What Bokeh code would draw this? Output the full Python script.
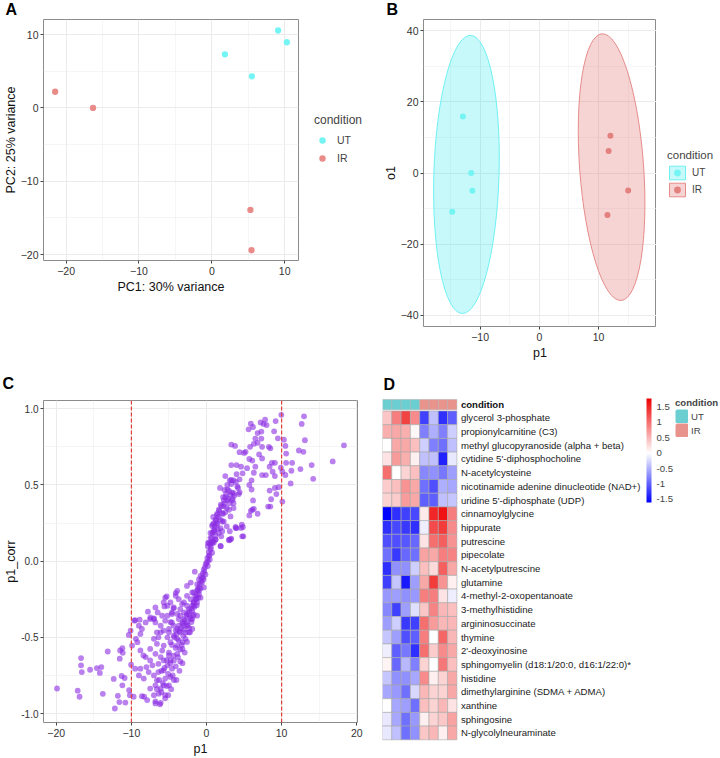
from bokeh.plotting import figure
from bokeh.layouts import row, column
from bokeh.models import (ColumnDataSource, FixedTicker, Legend, LegendItem, Title,
                          ColorBar, LinearColorMapper, Span, Range1d, PrintfTickFormatter)
from bokeh.core.properties import value
from bokeh.embed import file_html
from bokeh.resources import INLINE

FONT = "Liberation Sans"
UT_COL = "#75F4F4"
IR_COL = "#E88B89"

# ---------------- Panel A: PCA ----------------
conditions = ["UT", "IR"]
pca_ut_pc1 = [1.8, 5.5, 9.1, 10.3]
pca_ut_pc2 = [7.3, 4.3, 10.55, 8.95]
pca_ir_pc1 = [-21.5, -16.3, 5.3, 5.45]
pca_ir_pc2 = [2.2, 0.0, -13.9, -19.4]

# ---------------- Panel B: OPLS-DA scores ----------------
opls_ut_p1 = [-12.9, -11.5, -11.3, -14.7]
opls_ut_o1 = [15.9, 0.0, -5.0, -10.9]
opls_ir_p1 = [12.0, 11.7, 15.0, 11.5]
opls_ir_o1 = [10.5, 6.2, -4.9, -11.85]
ellipse_p1 = [-12.3, 12.2]
ellipse_o1 = [-0.4, 1.65]
ellipse_w = [11.0, 10.8]
ellipse_h = [78.3, 75.3]
ellipse_angle = [-0.030, 0.072]

# ---------------- Panel C: S-plot ----------------
c_points = [
    (9.96, 0.96), (12.98, 0.95), (12.67, 0.90), (18.3, 0.76), (16.8, 0.654), (14.2, 0.54), (14.0, 0.63),
    (12.5, 0.604), (11.3, 0.593), (11.2, 0.51), (11.4, 0.645), (10.6, 0.645), (12.3, 0.726), (12.9, 0.717),
    (13.1, 0.793), (10.6, 0.706), (10.5, 0.756), (10.3, 0.797), (9.5, 0.806), (9.2, 0.919), (9.0, 0.852),
    (7.8, 0.928), (7.2, 0.91), (8.0, 0.893), (5.9, 0.902), (6.2, 0.88), (5.6, 0.865), (7.3, 0.85),
    (6.5, 0.804), (7.3, 0.804), (6.8, 0.776), (6.3, 0.77), (5.8, 0.75), (5.2, 0.717), (5.0, 0.71),
    (4.4, 0.715), (3.3, 0.765), (3.8, 0.756), (8.3, 0.75), (8.5, 0.74), (7.4, 0.75), (7.0, 0.70),
    (7.4, 0.674), (6.1, 0.66), (5.7, 0.67), (6.5, 0.62), (5.4, 0.61), (4.6, 0.62), (4.0, 0.63),
    (3.3, 0.63), (9.1, 0.645), (8.7, 0.645), (8.4, 0.62), (8.8, 0.587), (9.9, 0.613), (10.1, 0.587),
    (10.5, 0.565), (9.1, 0.558), (7.9, 0.565), (7.4, 0.565), (6.3, 0.58), (6.0, 0.53), (5.7, 0.50),
    (6.0, 0.47), (4.8, 0.576), (4.4, 0.537), (4.0, 0.57), (3.6, 0.53), (3.1, 0.53), (2.5, 0.558),
    (1.8, 0.48), (2.8, 0.47), (3.3, 0.506), (4.2, 0.48), (4.4, 0.452), (8.4, 0.463), (9.1, 0.48),
    (9.6, 0.485), (9.3, 0.44), (8.6, 0.406), (8.2, 0.358), (8.5, 0.358), (10.1, 0.391), (6.2, 0.398),
    (6.1, 0.337), (5.9, 0.33), (6.3, 0.343), (5.7, 0.30), (6.8, 0.311), (3.9, 0.217), (4.7, 0.239),
    (4.9, 0.163), (4.84, 0.224), (3.3, 0.148), (3.0, 0.141), (1.9, 0.098), (7.6, 0.90), (6.8, 0.84),
    (0.89, 0.29), (1.2, 0.27), (1.64, 0.337), (2.3, 0.36), (2.76, 0.40), (2.53, 0.42), (3.2, 0.435),
    (3.4, 0.40), (3.6, 0.38), (3.0, 0.337), (2.1, 0.315), (1.87, 0.27), (1.4, 0.24), (1.07, 0.207),
    (0.76, 0.185), (0.53, 0.152), (0.31, 0.12), (0.18, 0.098), (2.4, 0.467), (2.76, 0.50), (3.3, 0.533),
    (3.9, 0.52), (4.1, 0.49), (3.6, 0.446), (1.87, 0.217), (2.3, 0.26), (1.64, 0.185), (1.2, 0.141),
    (2.1, 0.196), (2.7, 0.228), (1.42, 0.304), (0.98, 0.25), (0.76, 0.12), (3.6, 0.348), (3.2, 0.293),
    (4.0, 0.217), (1.96, 0.163), (3.1, 0.196),
    (1.4, 0.25), (2.1, 0.26), (0.75, 0.23), (0.53, 0.185), (3.86, 0.224), (4.6, 0.218), (4.75, 0.163),
    (3.2, 0.142), (3.0, 0.137), (1.86, 0.10), (1.2, 0.142), (0.97, 0.12), (0.53, 0.076), (0.31, 0.033),
    (0.0, -0.01), (-0.36, -0.054), (-0.8, -0.097), (-1.25, -0.152), (-1.7, -0.206), (-2.1, -0.25),
    (-2.6, -0.293), (-3.0, -0.336), (-3.7, -0.38), (-4.4, -0.423), (-5.0, -0.467), (-1.56, -0.069),
    (-2.1, -0.141), (-2.6, -0.163), (-3.9, -0.195), (-4.1, -0.228), (-5.5, -0.24), (-5.6, -0.297),
    (-4.4, -0.31), (-4.6, -0.347), (-3.25, -0.282), (-1.7, -0.293), (-1.8, -0.358), (-1.25, -0.271),
    (-1.0, -0.195), (-0.6, -0.141), (-0.14, -0.087), (0.17, -0.032), (0.44, 0.011), (0.75, 0.055),
    (-2.2, -0.467), (-3.0, -0.423), (-3.9, -0.445), (-6.1, -0.467), (-7.0, -0.38), (-7.47, -0.37),
    (-1.9, -0.38), (-2.6, -0.4), (-5.2, -0.358), (-4.8, -0.40), (-3.5, -0.358), (-1.25, -0.358),
    (-0.8, -0.24), (-0.36, -0.173), (-0.45, -0.108), (-1.0, -0.12),
    (2.2, 0.42), (2.6, 0.44), (3.0, 0.46), (3.4, 0.45), (2.9, 0.41), (3.7, 0.43), (2.4, 0.38),
    (2.0, 0.36), (2.7, 0.35), (3.1, 0.38), (1.7, 0.33), (2.2, 0.31), (1.6, 0.29), (2.5, 0.32),
    (3.5, 0.41), (4.3, 0.44), (1.3, 0.27), (1.1, 0.23), (1.5, 0.21), (0.9, 0.19), (1.2, 0.17),
    (0.7, 0.15), (0.9, 0.13), (0.5, 0.11), (0.6, 0.09), (0.3, 0.06), (0.4, 0.04), (0.1, 0.02),
    (0.2, 0.0), (-0.1, -0.02), (-0.2, -0.04), (-0.3, -0.07), (-0.5, -0.08), (-0.6, -0.11),
    (-0.7, -0.13), (-0.9, -0.15), (-1.0, -0.17), (-1.2, -0.19), (-1.3, -0.22), (-1.5, -0.23),
    (-1.4, -0.25), (-1.7, -0.27), (-1.9, -0.29), (-2.0, -0.31), (-2.3, -0.33), (-2.4, -0.35),
    (-2.7, -0.36), (-2.9, -0.39), (-2.5, -0.42), (-3.2, -0.41), (-3.4, -0.44), (-3.6, -0.46),
    (-2.8, -0.47), (-3.1, -0.49), (-4.0, -0.48), (-4.3, -0.5), (-3.7, -0.52), (-2.6, -0.53),
    (-4.6, -0.55), (-4.1, -0.57), (-3.5, -0.58), (-5.0, -0.6), (-4.4, -0.62), (-3.8, -0.63),
    (-5.3, -0.65), (-4.8, -0.67), (-4.1, -0.69), (-5.6, -0.7), (-6.0, -0.72), (-5.1, -0.74),
    (-4.5, -0.75), (-6.3, -0.78), (-5.8, -0.8), (-5.3, -0.82), (-6.6, -0.84), (-6.0, -0.86),
    (-5.5, -0.9), (-6.8, -0.92), (-6.2, -0.94), (-1.1, -0.24), (-0.8, -0.18), (-0.4, -0.12),
    (0.6, 0.12), (1.0, 0.2), (1.9, 0.37), (2.3, 0.4), (-2.2, -0.37), (-1.6, -0.3), (-3.0, -0.45),
    (-2.3, -0.44), (-2.0, -0.4), (-3.3, -0.55), (-2.9, -0.6), (-3.2, -0.67), (-3.6, -0.72),
    (-4.0, -0.78), (-4.7, -0.84), (-5.1, -0.88), (-1.7, -0.35), (-1.3, -0.29), (1.4, 0.31),
    (0.8, 0.24), (0.2, 0.12),
    (-19.9, -0.836), (-17.15, -0.85), (-16.9, -0.89), (-16.7, -0.636), (-16.7, -0.684), (-16.6, -0.728),
    (-15.5, -0.713), (-14.6, -0.702), (-14.0, -0.695), (-14.2, -0.734), (-13.15, -0.593), (-13.8, -0.871),
    (-12.35, -0.773), (-12.2, -0.967), (-11.8, -0.884), (-11.6, -0.925), (-11.55, -0.64), (-11.5, -0.586),
    (-11.2, -0.571), (-11.15, -0.602), (-11.3, -0.754), (-10.9, -0.767), (-11.2, -0.815), (-10.8, -0.928),
    (-10.3, -0.847), (-10.2, -0.88), (-10.35, -0.484), (-10.1, -0.456), (-10.04, -0.68), (-9.7, -0.89),
    (-9.5, -0.706), (-9.4, -0.51), (-9.5, -0.387), (-8.9, -0.384), (-9.0, -0.424), (-9.6, -0.391),
    (-8.6, -0.445), (-8.1, -0.402), (-7.8, -0.332), (-7.5, -0.38), (-7.0, -0.376), (-6.8, -0.402),
    (-8.8, -0.586), (-8.4, -0.619), (-8.8, -0.706), (-9.0, -0.75), (-8.35, -0.771), (-8.6, -0.886),
    (-8.3, -0.89), (-7.9, -0.912), (-7.5, -0.836), (-7.7, -0.728), (-8.0, -0.695), (-7.0, -0.75),
    (-6.8, -0.815), (-6.8, -0.934), (-6.1, -0.93), (-7.5, -0.652), (-6.8, -0.608), (-6.4, -0.674),
    (-6.1, -0.63), (-6.6, -0.543), (-7.0, -0.51), (-6.4, -0.50), (-5.7, -0.554), (-5.9, -0.587),
    (-6.6, -0.782), (-6.1, -0.836), (-5.5, -0.88), (-5.5, -0.771), (-5.0, -0.815), (-4.8, -0.76),
    (-4.35, -0.78), (-4.6, -0.706), (-5.2, -0.684), (-5.7, -0.652), (-5.0, -0.619), (-4.35, -0.652),
    (-3.5, -0.658), (-3.9, -0.608), (-3.2, -0.576), (-3.9, -0.554), (-4.8, -0.532), (-5.2, -0.50),
    (-4.35, -0.489), (-5.0, -0.445), (-4.6, -0.402), (-5.5, -0.391), (-5.2, -0.293), (-5.3, -0.232),
    (-4.6, -0.337), (-4.1, -0.21), (-3.9, -0.347), (-3.5, -0.315), (-3.0, -0.271), (-2.6, -0.228),
    (-1.9, -0.206), (-1.2, -0.185), (-1.7, -0.271), (-2.35, -0.315), (-3.0, -0.38), (-2.6, -0.424),
    (-2.1, -0.38), (-3.5, -0.467), (-2.8, -0.51), (-2.35, -0.467), (-1.9, -0.445), (-3.2, -0.402),
    (-3.7, -0.424), (-4.1, -0.456), (-3.9, -0.51), (-3.2, -0.532), (-5.7, -0.456), (-6.6, -0.467),
    (-6.1, -0.424), (-5.9, -0.358), (-4.8, -0.271), (-3.7, -0.25), (-4.35, -0.304), (-2.6, -0.347),
    (-1.9, -0.326), (-1.45, -0.25), (-1.0, -0.217), (-5.7, -0.271), (-6.8, -0.304), (-6.5, -0.337),
    (-8.8, -0.478), (-9.2, -0.532), (-9.9, -0.554), (-7.5, -0.576), (-8.1, -0.63), (-7.2, -0.684),
    (-6.4, -0.728), (-5.7, -0.717), (-5.7, -0.815), (-6.35, -0.87), (-7.0, -0.88), (-4.8, -0.652),
]
p1_values = [pt[0] for pt in c_points]
p1_corr_values = [pt[1] for pt in c_points]
p1_cutoffs = [-10, 10]

# ---------------- Panel D: heatmap ----------------
metabolites = [
    "glycerol 3-phosphate", "propionylcarnitine (C3)", "methyl glucopyranoside (alpha + beta)",
    "cytidine 5'-diphosphocholine", "N-acetylcysteine", "nicotinamide adenine dinucleotide (NAD+)",
    "uridine 5'-diphosphate (UDP)", "cinnamoylglycine", "hippurate", "putrescine", "pipecolate",
    "N-acetylputrescine", "glutamine", "4-methyl-2-oxopentanoate", "3-methylhistidine",
    "argininosuccinate", "thymine", "2'-deoxyinosine", "sphingomyelin (d18:1/20:0, d16:1/22:0)*",
    "histidine", "dimethylarginine (SDMA + ADMA)", "xanthine", "sphingosine", "N-glycolylneuraminate",
]
sample_condition = ["UT", "UT", "UT", "UT", "IR", "IR", "IR", "IR"]
heat_values = [
    [0.4, 0.9, 1.3, 0.8, -1.2, -0.4, -1.3, -1.0],
    [0.55, 0.6, 0.55, 0.05, -0.8, -0.5, -0.8, -0.3],
    [0.0, 0.6, 0.6, 0.45, -0.3, -0.8, -0.9, -0.4],
    [0.2, 0.7, 0.55, 0.1, -0.4, -0.4, -1.4, -0.15],
    [1.0, 0.0, 0.3, 0.45, -0.75, -0.7, -0.85, -0.6],
    [0.35, 0.45, 0.75, 0.6, -0.9, -1.1, -0.5, -0.55],
    [0.3, 0.35, 0.7, 0.6, -1.0, -1.0, -0.4, -0.35],
    [-1.7, -1.3, -1.2, -1.15, 0.15, 1.5, 1.65, 0.9],
    [-1.3, -1.15, -1.25, -1.3, -0.1, 1.25, 1.35, 0.8],
    [-1.1, -1.1, -1.05, -0.95, 0.2, 1.0, 1.1, 0.75],
    [-0.9, -1.25, -0.95, -0.9, 0.65, 0.6, 0.9, 0.85],
    [-1.3, -0.7, -0.7, -0.3, 0.45, 0.25, 1.1, 0.6],
    [-1.2, -0.35, -1.45, -0.6, 0.6, 1.35, 0.75, 0.1],
    [-0.65, -0.6, -0.7, -0.65, 0.9, 0.9, 0.2, -0.1],
    [-0.75, -1.2, -0.6, -0.2, 0.4, 0.85, 0.5, 0.45],
    [-0.6, -0.3, -1.25, -1.2, 1.0, 0.7, 0.5, 0.5],
    [-0.35, -0.6, -1.1, -1.0, 0.9, 0.0, 1.05, 0.5],
    [-0.1, -1.0, -0.85, -1.3, 1.0, 0.35, 0.8, 0.6],
    [0.08, -0.95, -0.45, -0.8, 0.3, 0.0, 0.95, 0.45],
    [-0.35, -0.7, -0.7, -0.55, 0.8, 0.1, 0.3, 0.6],
    [-0.55, -0.65, -0.9, -0.25, 0.5, 0.3, 0.3, 0.6],
    [0.0, -0.55, -0.6, -0.9, 0.45, 0.3, 0.5, 0.2],
    [-0.15, -0.55, -0.9, -0.65, 0.1, 0.3, 0.4, 0.65],
    [-0.15, -0.4, -0.9, -0.7, 0.4, 0.5, 0.1, 0.6],
]
scale_low, scale_high = -1.6, 1.77
colorbar_ticks = [-1.5, -1, -0.5, 0, 0.5, 1, 1.5]
HEAT_UT = "#6BCFD1"
HEAT_IR = "#E8938C"


def style_axes(p, xticks, xminor, yticks, yminor):
    p.xaxis.ticker = FixedTicker(ticks=xticks, minor_ticks=xminor)
    p.yaxis.ticker = FixedTicker(ticks=yticks, minor_ticks=yminor)
    p.outline_line_color = "#8C8C8C"
    p.outline_line_width = 1
    for ax in p.axis:
        ax.axis_line_color = None
        ax.major_tick_line_color = "#444444"
        ax.major_tick_out = 3
        ax.major_tick_in = 0
        ax.minor_tick_line_color = None
        ax.major_label_text_font = FONT
        ax.major_label_text_font_size = "10.5px"
        ax.major_label_text_color = "#333333"
        ax.axis_label_text_font = FONT
        ax.axis_label_text_font_size = "12.5px"
        ax.axis_label_text_font_style = "normal"
        ax.axis_label_text_color = "#111111"
        ax.axis_label_text_line_height = 0.9
        ax.major_label_standoff = 2
        ax.axis_label_standoff = 2
    p.yaxis.axis_label_standoff = 0
    p.yaxis.major_label_standoff = 1
    p.grid.grid_line_color = "#EBEBEB"
    p.grid.grid_line_width = 1
    p.grid.minor_grid_line_color = "#EFEFEF"
    p.grid.minor_grid_line_width = 0.6


def panel_letter(p, text, offset, standoff, valign):
    p.add_layout(Title(text=text, align="left", offset=offset, standoff=standoff,
                       vertical_align=valign, text_font=FONT, text_font_size="16px",
                       text_font_style="bold", text_color="black"), "above")


def legend_style(leg, title_size, label_size):
    leg.title_text_font = FONT
    leg.title_text_font_size = title_size
    leg.title_text_font_style = "normal"
    leg.label_text_font = FONT
    leg.label_text_font_size = label_size
    leg.border_line_color = None
    leg.background_fill_alpha = 0
    leg.inactive_fill_alpha = 0
    leg.padding = 0
    leg.margin = 0
    leg.spacing = 0


def legend_figure(width, height):
    f = figure(width=width, height=height, x_range=Range1d(0, 1), y_range=Range1d(0, 1),
               output_backend="svg", toolbar_location=None, x_axis_location=None, y_axis_location=None,
               min_border_left=0, min_border_right=0, min_border_top=0, min_border_bottom=0)
    f.outline_line_color = None
    f.grid.visible = False
    return f


# ---------- A ----------
pA = figure(width=305, height=366, x_range=Range1d(-23.1, 11.9), y_range=Range1d(-20.8, 12.05),
            output_backend="svg", toolbar_location=None,
            min_border_left=41, min_border_right=7, min_border_top=19, min_border_bottom=106,
            x_axis_label="PC1: 30% variance", y_axis_label="PC2: 25% variance")
style_axes(pA, [-20, -10, 0, 10], [-15, -5, 5], [-20, -10, 0, 10], [-15, -5, 5])
pA.scatter(pca_ut_pc1, pca_ut_pc2, size=6.3, fill_color=UT_COL, line_color=None)
pA.scatter(pca_ir_pc1, pca_ir_pc2, size=6.3, fill_color=IR_COL, line_color=None)
panel_letter(pA, "A", -38, 0, "top")

# legend for A (its own small canvas; key glyphs are hidden copies of the points)
pAL = legend_figure(75, 366)
ka_ut = pAL.scatter(pca_ut_pc1, pca_ut_pc2, size=6.3, fill_color=UT_COL, line_color=None, visible=False)
ka_ir = pAL.scatter(pca_ir_pc1, pca_ir_pc2, size=6.3, fill_color=IR_COL, line_color=None, visible=False)
legA = Legend(items=[LegendItem(label=conditions[0], renderers=[ka_ut]),
                     LegendItem(label=conditions[1], renderers=[ka_ir])],
              location=(9, 199), title="condition")
legend_style(legA, "12px", "10.5px")
legA.glyph_width = 16
legA.glyph_height = 18
legA.label_height = 18
legA.label_standoff = 7
legA.title_standoff = 4
pAL.add_layout(legA, "center")

# ---------- B ----------
pB = figure(width=276, height=366, x_range=Range1d(-19.55, 19.78), y_range=Range1d(-43.2, 43.2),
            output_backend="svg", toolbar_location=None,
            min_border_left=40, min_border_right=0, min_border_top=17, min_border_bottom=40,
            x_axis_label="p1", y_axis_label="o1")
style_axes(pB, [-10, 0, 10], [-15, -5, 5, 15], [-40, -20, 0, 20, 40], [-30, -10, 10, 30])
pB.ellipse(x=[ellipse_p1[0]], y=[ellipse_o1[0]], width=[ellipse_w[0]], height=[ellipse_h[0]],
           angle=[ellipse_angle[0]], fill_color="#00E5EE", fill_alpha=0.22, line_color="#6FF0F2", line_width=1)
pB.ellipse(x=[ellipse_p1[1]], y=[ellipse_o1[1]], width=[ellipse_w[1]], height=[ellipse_h[1]],
           angle=[ellipse_angle[1]], fill_color="#E07070", fill_alpha=0.30, line_color="#E48C8A", line_width=1)
pB.scatter(opls_ut_p1, opls_ut_o1, size=6, fill_color=UT_COL, line_color=None)
pB.scatter(opls_ir_p1, opls_ir_o1, size=6, fill_color="#E3817F", line_color=None)
panel_letter(pB, "B", -37, 0, "top")

pBL = legend_figure(64, 366)
kb_ut_box = pBL.rect(x=[ellipse_p1[0]], y=[ellipse_o1[0]], width=[ellipse_w[0]], height=[ellipse_h[0]],
                     fill_color="#00E5EE", fill_alpha=0.22, line_color="#6FF0F2", line_width=1, visible=False)
kb_ir_box = pBL.rect(x=[ellipse_p1[1]], y=[ellipse_o1[1]], width=[ellipse_w[1]], height=[ellipse_h[1]],
                     fill_color="#E07070", fill_alpha=0.30, line_color="#E48C8A", line_width=1, visible=False)
kb_ut = pBL.scatter(opls_ut_p1, opls_ut_o1, size=6, fill_color=UT_COL, line_color=None, visible=False)
kb_ir = pBL.scatter(opls_ir_p1, opls_ir_o1, size=6, fill_color="#E3817F", line_color=None, visible=False)
legB = Legend(items=[LegendItem(label=conditions[0], renderers=[kb_ut_box, kb_ut]),
                     LegendItem(label=conditions[1], renderers=[kb_ir_box, kb_ir])],
              location=(11, 168), title="condition")
legend_style(legB, "11.5px", "10px")
legB.glyph_width = 20
legB.glyph_height = 17
legB.label_height = 17
legB.label_standoff = 5
legB.title_standoff = 3
pBL.add_layout(legB, "center")

# ---------- C ----------
pC = figure(width=365, height=392, x_range=Range1d(-21.7, 20.1), y_range=Range1d(-1.059, 1.054),
            output_backend="svg", toolbar_location=None,
            min_border_left=43, min_border_right=8, min_border_top=34, min_border_bottom=35,
            x_axis_label="p1", y_axis_label="p1_corr")
style_axes(pC, [-20, -10, 0, 10, 20], [-15, -5, 5, 15], [-1.0, -0.5, 0.0, 0.5, 1.0], [-0.75, -0.25, 0.25, 0.75])
pC.yaxis.formatter = PrintfTickFormatter(format="%.1f")
pC.yaxis.major_label_text_font_size = "10px"
pC.scatter(p1_values, p1_corr_values, size=5.8, fill_color="#8A2BE2", fill_alpha=0.6, line_color=None)
for cut in p1_cutoffs:
    pC.add_layout(Span(location=cut, dimension="height", line_color="#E0403C", line_width=1.2,
                       line_dash="4 2"))
panel_letter(pC, "C", -41, 13, "top")

# ---------- D ----------
n_rows = len(metabolites)
n_cols = len(sample_condition)
pD = figure(width=355, height=392, x_range=Range1d(0, 36.34), y_range=Range1d(-0.124, 25.35),
            output_backend="svg", toolbar_location=None, x_axis_location=None, y_axis_location=None,
            min_border_left=17, min_border_right=0, min_border_top=26, min_border_bottom=17)
pD.outline_line_color = None
pD.grid.visible = False


def lerp(c1, c2, t):
    a = [int(c1[i:i + 2], 16) for i in (1, 3, 5)]
    b = [int(c2[i:i + 2], 16) for i in (1, 3, 5)]
    return "#%02X%02X%02X" % tuple(int(round(a[k] + (b[k] - a[k]) * t)) for k in range(3))


N = 256
palette = []
for i in range(N):
    v = scale_low + (scale_high - scale_low) * (i + 0.5) / N
    if v < 0:
        palette.append(lerp("#FFFFFF", "#0000FF", v / scale_low))
    else:
        palette.append(lerp("#FFFFFF", "#EE0000", v / scale_high))
mapper = LinearColorMapper(palette=palette, low=scale_low, high=scale_high)

hx, hy, hv = [], [], []
for r, vals in enumerate(heat_values):
    for c, v in enumerate(vals):
        hx.append(c + 0.5)
        hy.append(n_rows - r - 0.5)
        hv.append(v)
heat_src = ColumnDataSource(data=dict(x=hx, y=hy, v=hv))
pD.rect("x", "y", width=1, height=1, source=heat_src,
        fill_color={"field": "v", "transform": mapper}, line_color="#A8A8A8", line_width=0.6)

cond_colors = [HEAT_UT if s == "UT" else HEAT_IR for s in sample_condition]
cond_x = [c + 0.5 for c in range(n_cols)]
cond_src = ColumnDataSource(data=dict(x=cond_x, y=[n_rows + 0.46] * n_cols, col=cond_colors))
pD.rect("x", "y", width=1, height=0.75, source=cond_src, fill_color="col", line_color="#B0B0B0",
        line_width=0.5)

pD.text(x=[n_cols + 0.43] * n_rows, y=[n_rows - r - 0.5 for r in range(n_rows)], text=metabolites,
        text_font=value(FONT), text_font_size="9.6px", text_baseline="middle", text_align="left",
        text_color="#1A1A1A")
pD.text(x=[n_cols + 0.43], y=[n_rows + 0.46], text=["condition"], text_font=value(FONT),
        text_font_size="9.6px", text_font_style="bold", text_baseline="middle", text_align="left",
        text_color="#111111")

cbar = ColorBar(color_mapper=mapper, location=(264, 239), width=5, height=104, padding=0,
                orientation="vertical", ticker=FixedTicker(ticks=colorbar_ticks),
                major_label_overrides={t: ("%g" % t) for t in colorbar_ticks},
                major_label_text_font=FONT, major_label_text_font_size="9.6px",
                label_standoff=5, major_tick_line_color=None, minor_tick_line_color=None,
                bar_line_color=None, border_line_color=None, background_fill_alpha=0)
pD.add_layout(cbar, "center")

ut_idx = [i for i, s in enumerate(sample_condition) if s == "UT"]
ir_idx = [i for i, s in enumerate(sample_condition) if s == "IR"]
kd_ut = pD.rect(x=[cond_x[i] for i in ut_idx], y=[n_rows + 0.46] * len(ut_idx), width=1, height=0.75,
                fill_color=HEAT_UT, line_color=HEAT_UT, line_width=2.6, visible=False)
kd_ir = pD.rect(x=[cond_x[i] for i in ir_idx], y=[n_rows + 0.46] * len(ir_idx), width=1, height=0.75,
                fill_color=HEAT_IR, line_color=HEAT_IR, line_width=2.6, visible=False)
legD = Legend(items=[LegendItem(label=conditions[0], renderers=[kd_ut]),
                     LegendItem(label=conditions[1], renderers=[kd_ir])],
              location=(293, 304), title="condition")
legend_style(legD, "9.6px", "9.6px")
legD.title_text_font_style = "bold"
legD.glyph_width = 13
legD.glyph_height = 14
legD.label_height = 14
legD.label_standoff = 3
legD.title_standoff = 1
pD.add_layout(legD, "center")
panel_letter(pD, "D", 1, 0, "bottom")

layout = column(row(column(pA), column(pAL), column(pB), column(pBL)),
                row(column(pC), column(pD)))
open("out.html", "w").write(file_html(layout, INLINE))
